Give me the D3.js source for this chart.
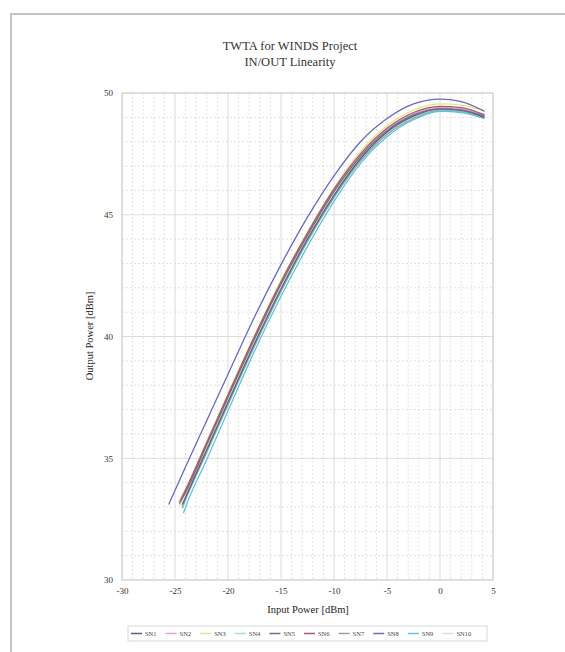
<!DOCTYPE html>
<html><head><meta charset="utf-8">
<script src="https://cdn.jsdelivr.net/npm/d3@7"></script>
<style>body{margin:0;background:#fff}svg{display:block}text{font-family:"Liberation Serif","Times New Roman",serif}</style>
</head><body>
<svg id="c" width="565" height="652"></svg>
<script>
const titleLines = ["TWTA for WINDS Project", "IN/OUT Linearity"];
const xTicks = [-30, -25, -20, -15, -10, -5, 0, 5];
const yTicks = [30, 35, 40, 45, 50];
const seriesNames = ["SN1","SN2","SN3","SN4","SN5","SN6","SN7","SN8","SN9","SN10"];
const seriesColors = ["#55607a","#d9a6da","#e6e48a","#a8dde6","#7a6a8a","#a45a6a","#98a898","#6a6ab8","#5cc4e0","#cfe6e8"];
const inputGrid = [-24, -22, -20, -17.5, -15, -12.5, -10, -7.5, -5, -2.5, 0, 2, 4.2];
const startX = [-24.3, -24.6, -24.7, -24.4, -24.6, -24.5, -24.3, -25.6, -24.2, -24.5];
const startY = [33.1, 33.1, 33.2, 33.0, 33.15, 33.25, 32.95, 33.1, 32.75, 33.05];
const SN1  = [33.4, 35.35, 37.3, 39.7, 41.95, 44.0, 45.8, 47.3, 48.4, 49.05, 49.35, 49.3, 49.0];
const SN2  = [33.65, 35.6, 37.55, 39.95, 42.2, 44.2, 46.0, 47.45, 48.5, 49.15, 49.4, 49.35, 49.1];
const SN3  = [33.75, 35.7, 37.65, 40.05, 42.3, 44.3, 46.1, 47.6, 48.65, 49.3, 49.55, 49.5, 49.25];
const SN4  = [33.35, 35.3, 37.25, 39.65, 41.9, 43.95, 45.75, 47.25, 48.35, 49.0, 49.3, 49.25, 48.95];
const SN5  = [33.6, 35.55, 37.5, 39.9, 42.15, 44.15, 45.95, 47.4, 48.45, 49.1, 49.35, 49.3, 49.05];
const SN6  = [33.7, 35.65, 37.6, 40.0, 42.25, 44.25, 46.05, 47.5, 48.55, 49.2, 49.45, 49.4, 49.1];
const SN7  = [33.3, 35.25, 37.2, 39.6, 41.85, 43.9, 45.7, 47.2, 48.3, 48.95, 49.3, 49.25, 49.0];
const SN8  = [34.65, 36.55, 38.45, 40.8, 42.95, 44.9, 46.6, 48.0, 48.95, 49.55, 49.75, 49.65, 49.25];
const SN9  = [33.0, 34.95, 36.95, 39.4, 41.65, 43.7, 45.55, 47.1, 48.2, 48.9, 49.25, 49.2, 48.95];
const SN10 = [33.5, 35.45, 37.4, 39.8, 42.05, 44.1, 45.9, 47.35, 48.45, 49.1, 49.4, 49.35, 49.05];
const seriesValues = [SN1, SN2, SN3, SN4, SN5, SN6, SN7, SN8, SN9, SN10];

const svg = d3.select("#c");
svg.append("rect").attr("x",11).attr("y",14).attr("width",570).attr("height",660)
  .attr("fill","none").attr("stroke","#c4c4c4").attr("stroke-width",2);

const L=122, R=493, T=93, B=580;
const x = d3.scaleLinear().domain([-30,5]).range([L,R]);
const y = d3.scaleLinear().domain([30,50]).range([B,T]);

const g = svg.append("g");
d3.range(-29,5,1).filter(v=>v%5!==0).forEach(v=>{
  g.append("line").attr("x1",x(v)).attr("x2",x(v)).attr("y1",T).attr("y2",B)
   .attr("stroke","#dadada").attr("stroke-width",0.8).attr("stroke-dasharray","2,2");
});
d3.range(31,50,1).filter(v=>v%5!==0).forEach(v=>{
  g.append("line").attr("x1",L).attr("x2",R).attr("y1",y(v)).attr("y2",y(v))
   .attr("stroke","#dadada").attr("stroke-width",0.8).attr("stroke-dasharray","2,2");
});
xTicks.forEach(v=>{
  g.append("line").attr("x1",x(v)).attr("x2",x(v)).attr("y1",T).attr("y2",B)
   .attr("stroke","#dcdcdc").attr("stroke-width",1);
});
yTicks.forEach(v=>{
  g.append("line").attr("x1",L).attr("x2",R).attr("y1",y(v)).attr("y2",y(v))
   .attr("stroke","#dcdcdc").attr("stroke-width",1);
});
svg.append("rect").attr("x",L).attr("y",T).attr("width",R-L).attr("height",B-T)
  .attr("fill","none").attr("stroke","#cfcfcf").attr("stroke-width",1);

const fmt = d => String(d);
const xAxis = svg.append("g").attr("transform",`translate(0,${B+8})`)
  .call(d3.axisBottom(x).tickValues(xTicks).tickFormat(fmt).tickSize(0).tickPadding(0));
xAxis.select(".domain").remove();
xAxis.selectAll("text").attr("font-size",9).attr("fill","#333").attr("dy","0.71em")
  .style("font-family","Liberation Serif, serif");
const yAxis = svg.append("g").attr("transform",`translate(${L-9},0)`)
  .call(d3.axisLeft(y).tickValues(yTicks).tickFormat(fmt).tickSize(0).tickPadding(0));
yAxis.select(".domain").remove();
yAxis.selectAll("text").attr("font-size",9).attr("fill","#333")
  .style("font-family","Liberation Serif, serif");

titleLines.forEach((t,i)=>{
  svg.append("text").attr("x",290).attr("y",50+i*16).attr("text-anchor","middle")
    .attr("font-size",12.5).attr("fill","#333").text(t);
});
svg.append("text").attr("x",308).attr("y",613).attr("text-anchor","middle")
  .attr("font-size",10.5).attr("fill","#222").text("Input Power [dBm]");
svg.append("text").attr("transform",`translate(93,336) rotate(-90)`).attr("text-anchor","middle")
  .attr("font-size",10.5).attr("fill","#222").text("Output Power [dBm]");

const line = d3.line().x(d=>x(d[0])).y(d=>y(d[1])).curve(d3.curveMonotoneX);
const drawOrder = [9,3,2,1,6,8,0,4,5,7];
drawOrder.forEach(i=>{
  const pts = [[startX[i], startY[i]]].concat(inputGrid.map((v,j)=>[v, seriesValues[i][j]]).filter(p=>p[0]>startX[i]));
  svg.append("path").attr("d",line(pts)).attr("fill","none")
    .attr("stroke",seriesColors[i]).attr("stroke-width",1.3);
});

const lg = svg.append("g");
lg.append("rect").attr("x",128).attr("y",626).attr("width",359).attr("height",15)
  .attr("fill","#fff").attr("stroke","#d8d8d8").attr("stroke-width",1);
seriesNames.forEach((n,i)=>{
  const x0 = 131 + i*34.6;
  lg.append("line").attr("x1",x0).attr("x2",x0+11).attr("y1",633.5).attr("y2",633.5)
    .attr("stroke",seriesColors[i]).attr("stroke-width",1.5);
  lg.append("text").attr("x",x0+14).attr("y",636).attr("font-size",6.5).attr("fill","#444").text(n);
});
</script>
</body></html>
